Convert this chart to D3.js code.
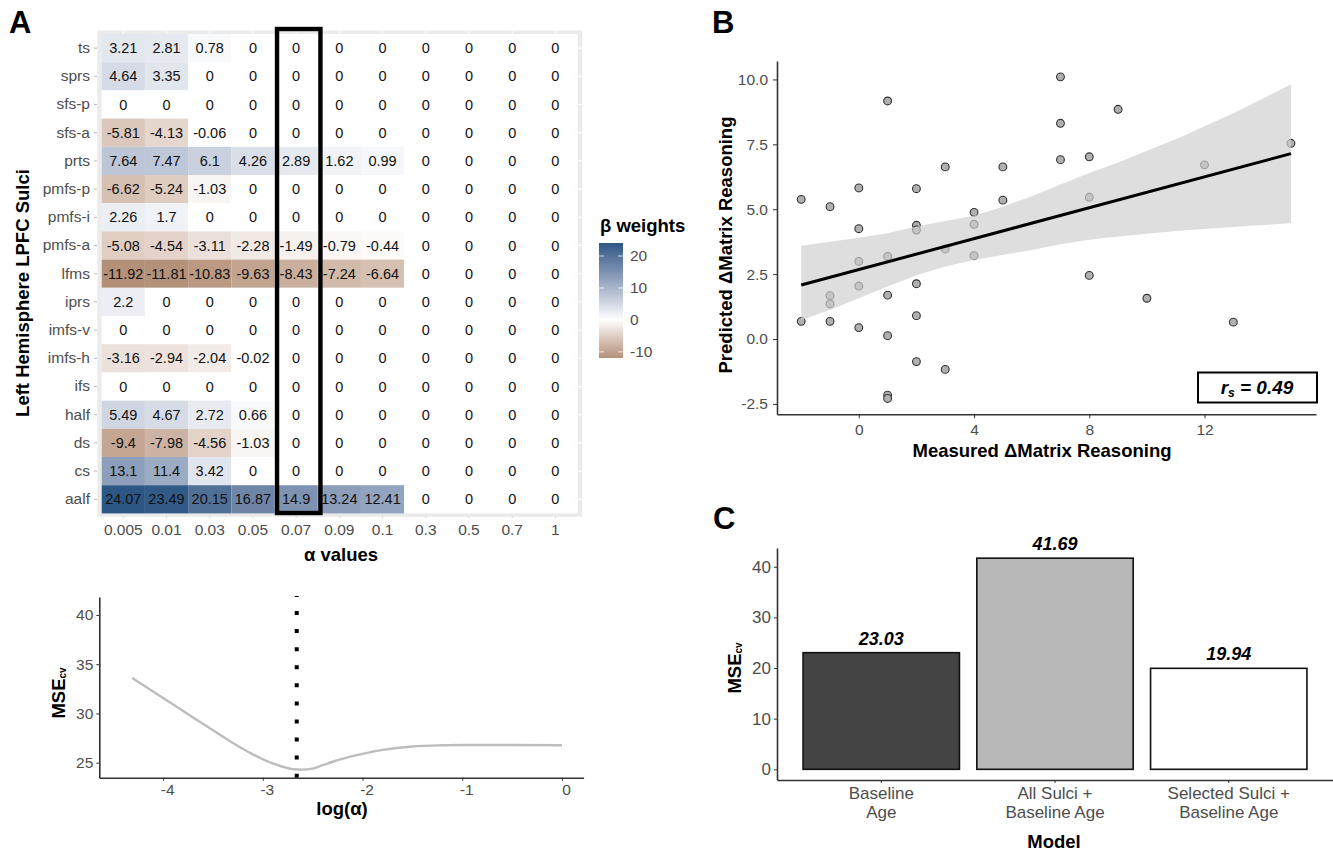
<!DOCTYPE html>
<html>
<head>
<meta charset="utf-8">
<script src="https://cdn.jsdelivr.net/npm/d3@7"></script>
<style>
  html, body { margin: 0; background: #fff; }
  svg { display: block; font-family: "Liberation Sans", Arial, sans-serif; }
  .tick text { fill: #4d4d4d; font-size: 15.5px; font-family: "Liberation Sans", Arial, sans-serif; }
  .axis-title { font-weight: bold; font-size: 18.5px; fill: #000; text-anchor: middle; }
  .panel-letter { font-weight: bold; font-size: 31px; fill: #000; }
</style>
</head>
<body>
<svg id="fig" width="1333" height="853"></svg>
<script>
// Panel A heatmap
const sulci = ["ts", "sprs", "sfs-p", "sfs-a", "prts", "pmfs-p", "pmfs-i", "pmfs-a", "lfms",
  "iprs", "imfs-v", "imfs-h", "ifs", "half", "ds", "cs", "aalf"];
const alphas = ["0.005", "0.01", "0.03", "0.05", "0.07", "0.09", "0.1", "0.3", "0.5", "0.7", "1"];
const betas = [
  [3.21, 2.81, 0.78, 0, 0, 0, 0, 0, 0, 0, 0],
  [4.64, 3.35, 0, 0, 0, 0, 0, 0, 0, 0, 0],
  [0, 0, 0, 0, 0, 0, 0, 0, 0, 0, 0],
  [-5.81, -4.13, -0.06, 0, 0, 0, 0, 0, 0, 0, 0],
  [7.64, 7.47, 6.1, 4.26, 2.89, 1.62, 0.99, 0, 0, 0, 0],
  [-6.62, -5.24, -1.03, 0, 0, 0, 0, 0, 0, 0, 0],
  [2.26, 1.7, 0, 0, 0, 0, 0, 0, 0, 0, 0],
  [-5.08, -4.54, -3.11, -2.28, -1.49, -0.79, -0.44, 0, 0, 0, 0],
  [-11.92, -11.81, -10.83, -9.63, -8.43, -7.24, -6.64, 0, 0, 0, 0],
  [2.2, 0, 0, 0, 0, 0, 0, 0, 0, 0, 0],
  [0, 0, 0, 0, 0, 0, 0, 0, 0, 0, 0],
  [-3.16, -2.94, -2.04, -0.02, 0, 0, 0, 0, 0, 0, 0],
  [0, 0, 0, 0, 0, 0, 0, 0, 0, 0, 0],
  [5.49, 4.67, 2.72, 0.66, 0, 0, 0, 0, 0, 0, 0],
  [-9.4, -7.98, -4.56, -1.03, 0, 0, 0, 0, 0, 0, 0],
  [13.1, 11.4, 3.42, 0, 0, 0, 0, 0, 0, 0, 0],
  [24.07, 23.49, 20.15, 16.87, 14.9, 13.24, 12.41, 0, 0, 0, 0]
];
const legendTicks = [-10, 0, 10, 20];
const legendStops = [-11.92, -8, -4, 0, 4, 8, 12, 16, 20, 24.07];
const selectedAlpha = "0.07";

// Panel A curve
const logAlpha = [-4.31, -4, -3.7, -3.5, -3.3, -3.1, -3, -2.85, -2.7, -2.6, -2.5, -2.4, -2.3, -2.15, -2, -1.8, -1.5, -1.2, -1, -0.5, 0];
const mseCurve = [33.6, 31.58, 29.6, 28.3, 27.0, 25.85, 25.35, 24.75, 24.35, 24.3, 24.4, 24.75, 25.1, 25.55, 25.9, 26.3, 26.65, 26.77, 26.8, 26.8, 26.77];
const selectedLog = -2.66;

// Panel B scatter
const measured = [-2, -1, 0, 0, 1, 2, 2, 2, 3, 4, 4, 5, 5, 7, 7, 7, 8, 8, 9, 12, 15,
  3, 4, 1, 0, 0, 2, 1, -1, -1, -2, -1, 0, 2, 1, 2, 3, 1, 1, 8, 10, 13];
const predicted = [5.38, 5.1, 5.82, 4.25, 9.17, 5.79, 4.38, 4.2, 6.63, 4.88, 4.42, 6.63, 5.35, 10.1, 8.31, 6.91, 7.02, 5.46, 8.85, 6.71, 7.54,
  3.47, 3.21, 3.18, 2.99, 2.04, 2.13, 1.69, 1.67, 1.35, 0.68, 0.68, 0.44, 0.9, 0.13, -0.87, -1.17, -2.16, -2.29, 2.45, 1.57, 0.65];
const fitX = [-2, 15];
const fitY = [2.08, 7.14];
const bandX = [-2, -1, 0, 1, 2, 3, 4, 5, 6, 7, 8, 9, 10, 11, 12, 13, 14, 15];
const bandUpper = [3.59, 3.75, 3.9, 4.07, 4.33, 4.55, 4.75, 5.1, 5.5, 5.95, 6.4, 6.8, 7.25, 7.7, 8.2, 8.7, 9.25, 9.81];
const bandLower = [0.73, 1.12, 1.57, 2.02, 2.46, 2.79, 3.04, 3.24, 3.43, 3.65, 3.82, 3.95, 4.06, 4.16, 4.24, 4.32, 4.39, 4.46];

// Panel C bars
const models = ["Baseline|Age", "All Sulci +|Baseline Age", "Selected Sulci +|Baseline Age"];
const mseValues = [23.03, 41.69, 19.94];
const barColors = ["#444444", "#b8b8b8", "#ffffff"];

const svg = d3.select("#fig");

function styleAxis(g) {
  g.select(".domain").attr("stroke", "#333").attr("stroke-width", 1.6);
  g.selectAll(".tick line").attr("stroke", "#333").attr("stroke-width", 1);
}

function title(x, y, text, rotate) {
  const t = svg.append("text").attr("class", "axis-title").attr("dominant-baseline", "middle");
  if (rotate) t.attr("transform", `translate(${x},${y}) rotate(-90)`);
  else t.attr("x", x).attr("y", y);
  return t.text(text);
}

function mseTitle(x, y) {
  const t = title(x, y, "MSE", true);
  t.append("tspan").attr("dy", 3).style("font-size", "10px").text("cv");
}

function letter(x, y, text) {
  svg.append("text").attr("class", "panel-letter").attr("x", x).attr("y", y).text(text);
}

letter(9, 33, "A");
letter(712, 33, "B");
letter(713, 529, "C");

// ---- A heatmap ----
const heatX = d3.scaleBand().domain(alphas).range([101.7, 577]);
const heatY = d3.scaleBand().domain(sulci).range([34, 513.4]);
// gradient2-style colours, interpolated in Lab
const fill = d3.scaleLinear()
  .domain([-12, 0, 24])
  .range(["#b38f77", "#ffffff", "#2d5785"])
  .interpolate(d3.interpolateLab);

svg.append("rect").attr("x", 99.5).attr("y", 32.7).attr("width", 480.5).attr("height", 482)
  .attr("fill", "#fff").attr("stroke", "#ebebeb").attr("stroke-width", 4.4);

const cells = betas.flatMap((row, i) => row.map((v, j) => ({ sulcus: sulci[i], alpha: alphas[j], v })));

svg.append("g").selectAll("rect").data(cells).join("rect")
  .attr("x", d => heatX(d.alpha))
  .attr("y", d => heatY(d.sulcus))
  .attr("width", heatX.bandwidth())
  .attr("height", heatY.bandwidth())
  .attr("fill", d => fill(d.v));

svg.append("g").selectAll("text").data(cells).join("text")
  .attr("x", d => heatX(d.alpha) + heatX.bandwidth() / 2)
  .attr("y", d => heatY(d.sulcus) + heatY.bandwidth() / 2)
  .attr("text-anchor", "middle")
  .attr("dominant-baseline", "central")
  .attr("font-size", 14.5)
  .attr("fill", "#111")
  .text(d => d.v);

svg.append("g").attr("transform", "translate(97,0)")
  .call(d3.axisLeft(heatY).tickSize(3).tickPadding(4))
  .call(g => g.select(".domain").remove())
  .call(g => g.selectAll(".tick line").attr("stroke", "#bbb"));

svg.append("g").attr("transform", "translate(0,515.5)")
  .call(d3.axisBottom(heatX).tickSize(3).tickPadding(5))
  .call(g => g.select(".domain").remove())
  .call(g => g.selectAll(".tick line").attr("stroke", "#ddd"));

// small white notches on the top and right of the frame
svg.append("g").attr("transform", "translate(0,31)")
  .call(d3.axisBottom(heatX).tickSize(3).tickFormat(""))
  .call(g => g.select(".domain").remove())
  .call(g => g.selectAll(".tick line").attr("stroke", "#fff"));
svg.append("g").attr("transform", "translate(578,0)")
  .call(d3.axisRight(heatY).tickSize(4).tickFormat(""))
  .call(g => g.select(".domain").remove())
  .call(g => g.selectAll(".tick line").attr("stroke", "#fff"));

svg.append("rect")
  .attr("x", heatX(selectedAlpha) + 2.5)
  .attr("y", 29)
  .attr("width", 43.4)
  .attr("height", 484)
  .attr("fill", "none")
  .attr("stroke", "#000")
  .attr("stroke-width", 4.4);

title(24, 293, "Left Hemisphere LPFC Sulci", true);
title(341, 556, "α values");

// legend
const legendY = d3.scaleLinear().domain([-11.92, 24.07]).range([358, 243]);
const grad = svg.append("defs").append("linearGradient")
  .attr("id", "beta-grad").attr("x1", 0).attr("x2", 0).attr("y1", 1).attr("y2", 0);
legendStops.forEach(v => {
  grad.append("stop")
    .attr("offset", (v + 11.92) / (24.07 + 11.92))
    .attr("stop-color", fill(v));
});
svg.append("rect").attr("x", 599).attr("y", 243).attr("width", 24).attr("height", 115)
  .attr("fill", "url(#beta-grad)");
svg.append("g").attr("transform", "translate(623,0)")
  .call(d3.axisRight(legendY).tickValues(legendTicks).tickSize(0).tickPadding(7).tickFormat(d => String(d)))
  .call(g => g.select(".domain").remove());
svg.append("g").selectAll("line").data(legendTicks.flatMap(v => [[v, 599], [v, 618]])).join("line")
  .attr("x1", d => d[1]).attr("x2", d => d[1] + 5)
  .attr("y1", d => legendY(d[0])).attr("y2", d => legendY(d[0]))
  .attr("stroke", "#fff").attr("stroke-width", 0.8);
svg.append("text").attr("class", "axis-title").attr("x", 600).attr("y", 232)
  .style("text-anchor", "start").text("β weights");

// ---- A curve ----
const lineX = d3.scaleLinear().domain([-4.64, 0.217]).range([99.3, 583.6]);
const lineY = d3.scaleLinear().domain([23.48, 41.82]).range([777.7, 597]);

svg.append("path")
  .datum(d3.zip(logAlpha, mseCurve))
  .attr("fill", "none")
  .attr("stroke", "#bdbdbd")
  .attr("stroke-width", 2.4)
  .attr("d", d3.line().x(d => lineX(d[0])).y(d => lineY(d[1])).curve(d3.curveMonotoneX));

svg.append("line")
  .attr("x1", lineX(selectedLog)).attr("x2", lineX(selectedLog))
  .attr("y1", 777.7).attr("y2", 596)
  .attr("stroke", "#000").attr("stroke-width", 4).attr("stroke-dasharray", "4 14.08");

svg.append("g").attr("transform", "translate(99.3,0)")
  .call(d3.axisLeft(lineY).tickValues([25, 30, 35, 40]).tickSize(3).tickSizeOuter(0).tickPadding(3))
  .call(styleAxis);
svg.append("g").attr("transform", "translate(0,777.7)")
  .call(d3.axisBottom(lineX).tickValues([-4, -3, -2, -1, 0]).tickSize(3).tickSizeOuter(0).tickPadding(3).tickFormat(d => String(d)))
  .call(styleAxis)
  .call(g => g.selectAll("text").attr("dx", 4));

mseTitle(60, 693);
title(342, 810, "log(α)");

// ---- B scatter ----
const scatX = d3.scaleLinear().domain([-2.84, 15.87]).range([777, 1316]);
const scatY = d3.scaleLinear().domain([-2.9, 10.71]).range([414.3, 61]);

svg.append("g").selectAll("circle").data(d3.zip(measured, predicted)).join("circle")
  .attr("cx", d => scatX(d[0]))
  .attr("cy", d => scatY(d[1]))
  .attr("r", 3.9)
  .attr("fill", "#b0b0b0")
  .attr("stroke", "#333")
  .attr("stroke-width", 1.1);

svg.append("path")
  .datum(d3.zip(bandX, bandLower, bandUpper))
  .attr("fill", "#cfcfcf")
  .attr("fill-opacity", 0.68)
  .attr("d", d3.area().x(d => scatX(d[0])).y0(d => scatY(d[1])).y1(d => scatY(d[2])));

svg.append("path")
  .datum(d3.zip(fitX, fitY))
  .attr("fill", "none")
  .attr("stroke", "#000")
  .attr("stroke-width", 3)
  .attr("d", d3.line().x(d => scatX(d[0])).y(d => scatY(d[1])));

svg.append("g").attr("transform", "translate(777,0)")
  .call(d3.axisLeft(scatY).tickValues([-2.5, 0, 2.5, 5, 7.5, 10]).tickSize(4).tickSizeOuter(0).tickPadding(5).tickFormat(d => d.toFixed(1)))
  .call(styleAxis);
svg.append("g").attr("transform", "translate(0,414.3)")
  .call(d3.axisBottom(scatX).tickValues([0, 4, 8, 12]).tickSize(4).tickSizeOuter(0).tickPadding(6))
  .call(styleAxis);

title(727, 245, "Predicted ΔMatrix Reasoning", true);
title(1042, 452, "Measured ΔMatrix Reasoning");

svg.append("rect").attr("x", 1198).attr("y", 372.5).attr("width", 119).attr("height", 30)
  .attr("fill", "#fff").attr("stroke", "#000").attr("stroke-width", 2);
const rsText = svg.append("text").attr("x", 1257).attr("y", 394)
  .attr("text-anchor", "middle").attr("font-weight", "bold").attr("font-style", "italic").attr("font-size", 19);
rsText.append("tspan").text("r");
rsText.append("tspan").attr("font-size", 12).attr("dy", 3).text("s");
rsText.append("tspan").attr("dy", -3).text(" = 0.49");

// ---- C bars ----
const barX = d3.scaleBand().domain(models).range([777, 1333]).paddingInner(0.1).paddingOuter(0.15);
const barY = d3.scaleLinear().domain([-2.11, 43.7]).range([780, 548]);
const barData = d3.zip(models, mseValues, barColors);

svg.append("g").selectAll("rect").data(barData).join("rect")
  .attr("x", d => barX(d[0]))
  .attr("y", d => barY(d[1]))
  .attr("width", barX.bandwidth())
  .attr("height", d => barY(0) - barY(d[1]))
  .attr("fill", d => d[2])
  .attr("stroke", "#111")
  .attr("stroke-width", 1.6);

svg.append("g").selectAll("text").data(barData).join("text")
  .attr("x", d => barX(d[0]) + barX.bandwidth() / 2)
  .attr("y", d => barY(d[1]) - 8)
  .attr("text-anchor", "middle")
  .attr("font-weight", "bold")
  .attr("font-style", "italic")
  .attr("font-size", 18)
  .text(d => d[1]);

svg.append("g").attr("transform", "translate(777,0)")
  .call(d3.axisLeft(barY).tickValues([0, 10, 20, 30, 40]).tickSize(3).tickSizeOuter(0).tickPadding(3))
  .call(styleAxis)
  .call(g => g.selectAll("text").style("font-size", "17px"));
svg.append("g").attr("transform", "translate(0,780)")
  .call(d3.axisBottom(barX).tickSize(3).tickSizeOuter(0).tickPadding(4))
  .call(styleAxis)
  .call(g => g.selectAll("text").style("font-size", "17px").each(function(d) {
    const t = d3.select(this).text(null);
    d.split("|").forEach((s, i) => {
      t.append("tspan").attr("x", 0).attr("dy", i ? "1.1em" : "0.71em").text(s);
    });
  }));

mseTitle(736, 668);
title(1054, 843, "Model");
</script>
</body>
</html>
